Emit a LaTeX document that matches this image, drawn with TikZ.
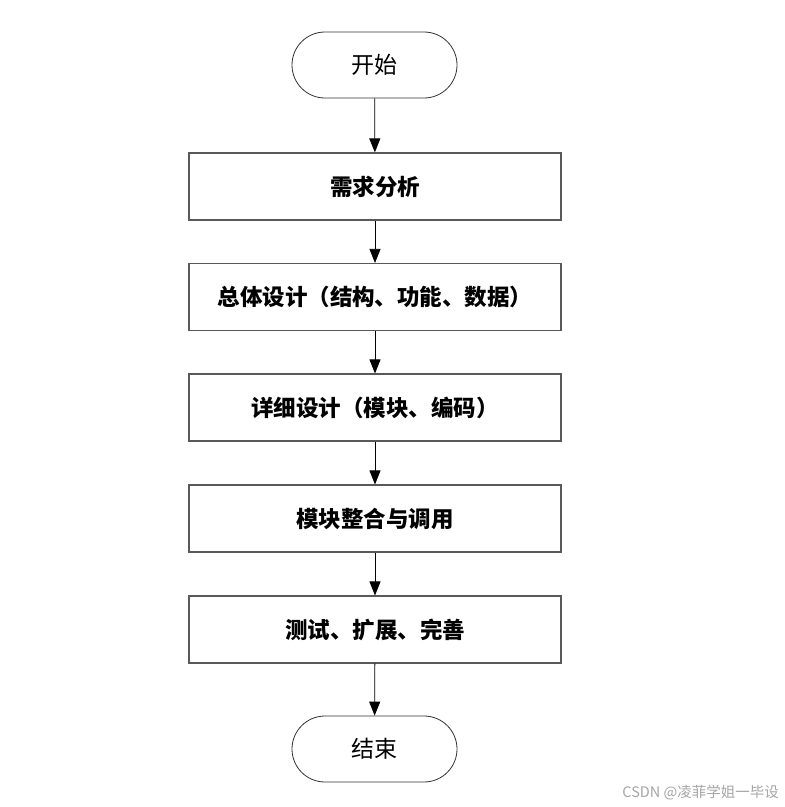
\documentclass[tikz,border=0pt]{standalone}
\usepackage{fontspec}
\setmainfont{Liberation Sans}
\newfontfamily\cjk{Noto Sans CJK SC}
\usetikzlibrary{arrows.meta,shapes.misc}
\begin{document}
\begin{tikzpicture}[x=1pt,y=-1pt,
  pill/.style={draw=black!80,line width=0.8pt,rounded rectangle,minimum width=165pt,minimum height=66pt,inner sep=0pt,text width=100pt,align=center,font=\cjk\fontsize{23}{26}\selectfont},
  stepbox/.style={draw=black!65,line width=1.2pt,rectangle,minimum width=372pt,minimum height=67pt,font=\cjk\bfseries\fontsize{22.5}{26}\selectfont},
  arr/.style={draw=black,line width=0.8pt,-{Triangle[width=11pt,length=14pt]}}]
\fill[white] (0,0) rectangle (785,807);
\useasboundingbox (0,0) rectangle (785,807);
\node[pill] (s) at (374.5,65) {开始};
\node[stepbox] (b1) at (375,186.5) {需求分析};
\node[stepbox] (b2) at (375,297) {总体设计（结构、功能、数据）};
\node[stepbox] (b3) at (375,407.5) {详细设计（模块、编码）};
\node[stepbox] (b4) at (375,518.5) {模块整合与调用};
\node[stepbox] (b5) at (375,629.5) {测试、扩展、完善};
\node[pill] (e) at (374.5,749) {结束};
\draw[arr] (s) -- (b1);
\draw[arr] (b1) -- (b2);
\draw[arr] (b2) -- (b3);
\draw[arr] (b3) -- (b4);
\draw[arr] (b4) -- (b5);
\draw[arr] (b5) -- (e);
\node[anchor=east,text=black!35,font=\cjk\fontsize{14.5}{16}\selectfont,inner sep=0pt] (wm) at (779,793) {CSDN @凌菲学姐一毕设};
\end{tikzpicture}
\end{document}
